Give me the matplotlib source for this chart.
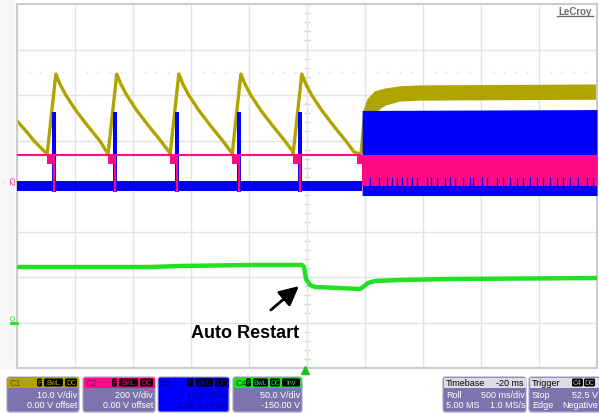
import numpy as np
import matplotlib
matplotlib.use('Agg')
import matplotlib.pyplot as plt
from matplotlib.patches import FancyBboxPatch, Rectangle

plt.rcParams['font.family'] = ['Liberation Sans', 'DejaVu Sans']

# --- scope data, in divisions (x: -5..5, y: -4..4) ---
# C1 (yellow): sawtooth during auto-restart bursts
c1_first_x = [-5.0, -4.86, -4.69]
c1_first_y = [1.43, 1.23, 0.97]
burst_x = [-4.48, -3.43, -2.36, -1.29, -0.24]
restart_x = 0.91
c1_valley = 0.70
c1_rise = 0.15
decay_dx = [0.0, 0.07, 0.17, 0.34, 0.55, 0.76, 0.90]
decay_y = [2.46, 2.24, 2.00, 1.67, 1.32, 0.99, 0.75]
# C1 after restart (noisy band)
c1_run_x = [0.91, 0.98, 1.05, 1.17, 1.34, 1.60, 1.95, 5.0]
c1_run_top = [0.70, 1.65, 1.91, 2.07, 2.13, 2.18, 2.20, 2.22]
c1_run_bot = [0.70, 0.81, 1.36, 1.65, 1.80, 1.89, 1.91, 1.93]

# C3 (blue) drain pulses
c3_base_lo, c3_base_hi = -0.10, 0.10
c3_pulse_top = 1.63
c3_pulse_bot = -0.13
c3_run_x = [0.95, 5.0]
c3_run_top = [1.66, 1.68]
c3_run_bot = [-0.21, -0.21]
c3_spike_x = [1.09, 1.24, 1.38, 1.47, 1.55, 1.64, 1.72, 1.81, 1.90, 2.07, 2.14, 2.24,
              2.38, 2.47, 2.55, 2.69, 2.81, 2.86, 3.02, 3.10, 3.28, 3.38, 3.50, 3.62,
              3.72, 3.84, 3.97, 4.07, 4.19, 4.31, 4.41, 4.53, 4.67, 4.83, 4.93]

# C2 (pink)
c2_base = 0.68
c2_flag_lo = 0.48
c2_run_lo = 0.0

# C4 (green)
c4_x = [-5.0, -2.71, -2.19, -0.98, -0.086, -0.052, -0.017, 0.052, 0.138, 0.569,
        0.914, 0.966, 1.052, 1.172, 1.603, 2.466, 5.0]
c4_y = [-1.78, -1.78, -1.758, -1.736, -1.736, -1.78, -2.044, -2.176, -2.22, -2.242,
        -2.264, -2.22, -2.13, -2.088, -2.066, -2.044, -2.022]

YEL = '#b0a500'
PNK = '#ff0a84'
BLU = '#0000ff'
GRN = '#22e022'

fig = plt.figure(figsize=(5.99, 4.14), dpi=100)
fig.patch.set_facecolor('white')

ax = fig.add_axes([17/599, 45/414, 580/599, 364/414])
ax.set_xlim(-5, 5)
ax.set_ylim(-4, 4)
ax.set_xticks(np.arange(-5, 6))
ax.set_yticks(np.arange(-4, 5))
ax.tick_params(length=0, labelbottom=False, labelleft=False)
ax.grid(color='#e3e3e3', lw=1)
for s in ax.spines.values():
    s.set_color('#cccccc')
    s.set_linewidth(1.5)
# center graticule ticks
ax.plot(np.zeros(41), np.linspace(-4, 4, 41), ls='none', marker='_', ms=4, color='#d6d6d6', zorder=1)
ax.plot(np.linspace(-5, 5, 51), np.full(51, 2.5), ls='none', marker='.', ms=1, color='#e4e4e4', zorder=1)

# C1 sawtooth
yx = list(c1_first_x)
yy = list(c1_first_y)
ends = burst_x[1:] + [restart_x]
for b, nxt in zip(burst_x, ends):
    yx.append(b)
    yy.append(c1_valley)
    pk = b + c1_rise
    for dx, v in zip(decay_dx, decay_y):
        if pk + dx < nxt:
            yx.append(pk + dx)
            yy.append(v)
yx.append(restart_x)
yy.append(c1_valley)
ax.plot(yx, yy, color=YEL, lw=2.4, zorder=2, solid_joinstyle='round')
ax.fill_between(c1_run_x, c1_run_bot, c1_run_top, color=YEL, lw=1.5, ec=YEL, zorder=2)

# C3 blue
ax.fill_between([-5, 0.95], c3_base_lo, c3_base_hi, color=BLU, lw=0, zorder=3)
px = [b + 0.12 for b in burst_x]
ax.bar(px, c3_pulse_top - c3_pulse_bot, width=0.065, bottom=c3_pulse_bot, color=BLU, zorder=3)
ax.fill_between(c3_run_x, c3_run_bot, c3_run_top, color=BLU, lw=0, zorder=3)

# C2 pink
ax.plot([-5, restart_x], [c2_base, c2_base], color=PNK, lw=1.5, zorder=4)
ax.bar(burst_x + [0.86], c2_base - c2_flag_lo, width=0.12, bottom=c2_flag_lo,
       align='edge', color=PNK, zorder=4)
ax.vlines(px, c3_pulse_bot, c2_base, color=PNK, lw=1.6, zorder=4)
ax.fill_between([0.95, 5.0], c2_run_lo, c2_base, color=PNK, lw=0, zorder=4)
ax.vlines(c3_spike_x, 0.0, 0.2, color=BLU, lw=0.9, zorder=5)

# C4 green
ax.plot(c4_x, c4_y, color=GRN, lw=3.2, zorder=3)

# annotation
ax.annotate('Auto Restart', xy=(-0.14, -2.20), xytext=(-1.07, -3.21),
            ha='center', va='center', fontsize=13, fontweight='bold',
            arrowprops=dict(arrowstyle='-|>,head_width=0.45,head_length=0.9',
                            color='black', lw=2, shrinkA=12, shrinkB=0),
            zorder=6)

# --- overlay for screen decorations (pixel coords) ---
ov = fig.add_axes([0, 0, 1, 1], zorder=10)
ov.set_xlim(0, 599)
ov.set_ylim(414, 0)
ov.axis('off')
ov.patch.set_alpha(0)

ov.add_patch(Rectangle((0, 0), 15, 370, color='#f7f7f7', lw=0))
ov.text(575, 12, 'LeCroy', ha='center', va='center', fontsize=7, fontweight='bold', color='#6e6e6e')
ov.plot([557, 593], [17, 17], color='#6e6e6e', lw=1)
ov.text(10, 182, 'C2', color=PNK, fontsize=5, rotation=-90, ha='center', va='center')
ov.text(10, 319, 'C4', color=GRN, fontsize=5, rotation=-90, ha='center', va='center')
ov.plot([11, 17], [324, 324], color=GRN, lw=2)
ov.plot([305], [371], marker='^', ms=6, color='#20c020', ls='none')

BODY = '#7d74ae'
boxes = [
    ('C1', 7, 79, YEL, '#5a5400', ['F', 'BwL', 'DC'], [(37, 42), (44, 63), (65, 77)],
     '10.0 V/div', '0.00 V offset', 'white'),
    ('C2', 83, 155, PNK, '#9a0050', ['F', 'BwL', 'DC'], [(112, 117), (119, 138), (140, 153)],
     '200 V/div', '0.00 V offset', 'white'),
    ('C3', 158, 229, BLU, '#000070', ['F', 'BwL', 'DC'], [(187, 193), (196, 213), (215, 227)],
     '10.0 V/div', '0.00 V offset', '#00008a'),
    ('C4', 233, 302, GRN, '#006000', ['F', 'BwL', 'DC', 'Inv'], [(246, 251), (253, 268), (270, 280), (282, 300)],
     '50.0 V/div', '-150.00 V', 'white'),
]
for name, x0, x1, hc, tc, badges, bpos, l1, l2, body_tc in boxes:
    body = BLU if name == 'C3' else BODY
    ov.add_patch(FancyBboxPatch((x0, 378), x1 - x0, 35, boxstyle='round,pad=0,rounding_size=2.5',
                                fc=body, ec='#a9a4c8', lw=0.8))
    ov.add_patch(Rectangle((x0 + 0.5, 378.5), x1 - x0 - 1, 10, fc=hc, lw=0))
    ov.text(x0 + 2, 383.5, name, fontsize=6.5, color=tc, va='center')
    for lab, (a, b) in zip(badges, bpos):
        ov.add_patch(FancyBboxPatch((a, 379.5), b - a, 8, boxstyle='round,pad=0,rounding_size=1.5',
                                    fc='black', lw=0))
        ov.text((a + b) / 2, 383.5, lab, fontsize=5, color=hc, ha='center', va='center')
    ov.text(x1 - 2, 396, l1, fontsize=6.5, color=body_tc, ha='right', va='center')
    ov.text(x1 - 2, 405.5, l2, fontsize=6.5, color=body_tc, ha='right', va='center')

for x0, x1, h1, h2, rows in [
        (443, 526, 'Timebase', '-20 ms', [('Roll', '500 ms/div'), ('5.00 MS', '1.0 MS/s')]),
        (529, 603, 'Trigger', '', [('Stop', '52.5 V'), ('Edge', 'Negative')])]:
    ov.add_patch(FancyBboxPatch((x0, 378), x1 - x0, 35, boxstyle='round,pad=0,rounding_size=2.5',
                                fc=BODY, ec='#a9a4c8', lw=0.8))
    ov.add_patch(Rectangle((x0 + 0.5, 378.5), x1 - x0 - 1, 10, fc='#dcdce4', lw=0))
    ov.text(x0 + 3, 383.5, h1, fontsize=6.5, color='black', va='center')
    if h2:
        ov.text(x1 - 2, 383.5, h2, fontsize=6.5, color='black', ha='right', va='center')
    right = min(x1, 599) - 1
    for (l, r), yy_ in zip(rows, [396, 405.5]):
        ov.text(x0 + 3, yy_, l, fontsize=6.5, color='white', va='center')
        ov.text(right, yy_, r, fontsize=6.5, color='white', ha='right', va='center')
for a, b, lab in [(572, 583, 'C4'), (584, 595, 'DC')]:
    ov.add_patch(FancyBboxPatch((a, 379.5), b - a, 8, boxstyle='round,pad=0,rounding_size=1.5',
                                fc='black', lw=0))
    ov.text((a + b) / 2, 383.5, lab, fontsize=5, color='#bbbbbb', ha='center', va='center')

fig.savefig('out.png', dpi=100)
